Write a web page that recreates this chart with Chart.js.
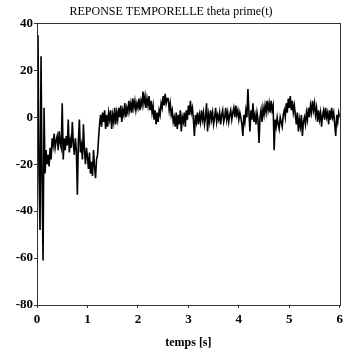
<!DOCTYPE html>
<html>
<head>
<meta charset="utf-8">
<script src="https://cdn.jsdelivr.net/npm/chart.js@4"></script>
<style>
  html, body { margin: 0; padding: 0; background: #fff; }
  #wrap { width: 347px; height: 351px; }
</style>
</head>
<body>
<div id="wrap"><canvas id="reponse"></canvas></div>
<script>
const dt = 0.02;
const theta = [
  5, 35, -25, -48, 26, -27, -61, 4, -24, -14,      // 0.0
  -20, -16, -21, -13, -18, -9, -12, -7, -13, -10,  // 0.2
  -8, -14, -6, -11, -13, 6, -18, -9, -14, -8,      // 0.4
  -12, -1, -15, -10, -13, -2, -11, -16, -9, -14,   // 0.6
  -33, -10, -1, -15, -12, -18, -3, -14, -20, -13,  // 0.8
  -17, -22, -15, -24, -19, -25, -14, -21, -26, -18,// 1.0
  -16, -9, -3, 1, -4, 2, -2, 3, -5, 1,             // 1.2
  -4, 2, -1, 3, -5, 1, -2, 4, -3, 2,               // 1.4
  -1, 4, 0, 5, -2, 3, 1, 6, 0, 4,                  // 1.6
  2, 7, 3, 6, 2, 8, 4, 7, 3, 6,                    // 1.8
  4, 8, 3, 7, 5, 11, 6, 9, 4, 8,                   // 2.0
  5, 9, 3, 7, 2, 5, -1, 3, -3, 2,                  // 2.2
  -2, 3, 1, 6, 4, 9, 5, 10, 6, 8,                  // 2.4
  8, 3, 6, 1, 3, -2, 0, -4, 2, -5,                 // 2.6
  1, -3, 3, -6, 0, -2, 2, -4, 3, -1,               // 2.8
  5, 1, 7, 2, 4, -1, -8, 1, -2, 2,                 // 3.0
  -3, 1, -2, 3, -1, 2, -3, 0, 6, -6,               // 3.2
  1, -2, 3, -1, 2, -3, 0, 4, -2, 1,                // 3.4
  -1, 2, -3, 1, 3, -2, 0, 4, -1, 2,                // 3.6
  -2, 1, 3, -1, 2, 4, 0, 5, 1, 3,                  // 3.8
  -1, 2, 0, -3, -8, 1, -2, 3, 0, 12,               // 4.0
  2, -6, 3, -1, 6, -2, 1, -3, 2, -1,               // 4.2
  -11, 0, 3, -2, 4, 1, 5, 2, 7, 3,                 // 4.4
  6, 2, 7, 3, 5, -14, -1, -4, 0, -3,               // 4.6
  -5, 0, -2, -4, 1, 3, 0, 6, 2, 8,                 // 4.8
  4, 9, 3, 7, 2, 5, 1, -3, 2, -6,                  // 5.0
  -1, -4, 1, -8, -2, 0, -3, 2, -1, 4,              // 5.2
  0, 5, 2, 7, 3, 6, 1, 4, -2, 3,                   // 5.4
  -1, 2, -4, 1, 3, -1, 4, 0, 2, -3,                // 5.6
  3, -1, 4, 0, 2, -3, -8, 1, -2, 2,                // 5.8
  0                                                // 6.0
];
const time = theta.map((v, i) => +(i * dt).toFixed(2));
const xTicks = [0, 1, 2, 3, 4, 5, 6];
const yTicks = [-80, -60, -40, -20, 0, 20, 40];

const points = time.map((t, i) => ({ x: t, y: theta[i] }));

// cadre autour de la zone de trace
const cadre = {
  id: 'cadre',
  afterDatasetsDraw(chart) {
    const a = chart.chartArea;
    const ctx = chart.ctx;
    ctx.save();
    ctx.strokeStyle = '#333';
    ctx.lineWidth = 1;
    ctx.strokeRect(Math.round(a.left) + 0.5, Math.round(a.top) + 0.5,
      Math.round(a.right - a.left), Math.round(a.bottom - a.top));
    ctx.restore();
  }
};

const serif = "'Liberation Serif', 'Times New Roman', serif";

new Chart(document.getElementById('reponse'), {
  type: 'line',
  data: {
    datasets: [{
      label: 'theta prime(t)',
      data: points,
      borderColor: '#000',
      borderWidth: 1.6,
      pointRadius: 0,
      tension: 0,
      fill: false
    }]
  },
  options: {
    responsive: true,
    maintainAspectRatio: false,
    animation: false,
    layout: { padding: { left: 0, right: 5, top: 0, bottom: 0 } },
    plugins: {
      legend: { display: false },
      tooltip: { enabled: false },
      title: {
        display: true,
        text: 'REPONSE TEMPORELLE theta prime(t)',
        color: '#000',
        font: { family: serif, size: 12, weight: 'normal' },
        padding: { top: 5, bottom: 4 }
      }
    },
    scales: {
      x: {
        type: 'linear',
        min: 0, max: 6,
        afterFit(s) { s.height = 46; },
        afterBuildTicks(s) { s.ticks = xTicks.map(v => ({ value: v })); },
        grid: { drawOnChartArea: false, tickLength: 3, color: '#333' },
        border: { display: false },
        ticks: { color: '#000', padding: 4, maxRotation: 0,
          font: { family: serif, size: 13, weight: 'bold' } },
        title: { display: true, text: 'temps [s]', color: '#000',
          padding: { top: 0, bottom: 1 },
          font: { family: serif, size: 12, weight: 'bold' } }
      },
      y: {
        min: -80, max: 40,
        afterFit(s) { s.width = 37; },
        afterBuildTicks(s) { s.ticks = yTicks.map(v => ({ value: v })); },
        grid: { drawOnChartArea: false, tickLength: 3, color: '#333' },
        border: { display: false },
        ticks: { color: '#000', padding: 1,
          font: { family: serif, size: 13, weight: 'bold' } }
      }
    }
  },
  plugins: [cadre]
});
</script>
</body>
</html>
